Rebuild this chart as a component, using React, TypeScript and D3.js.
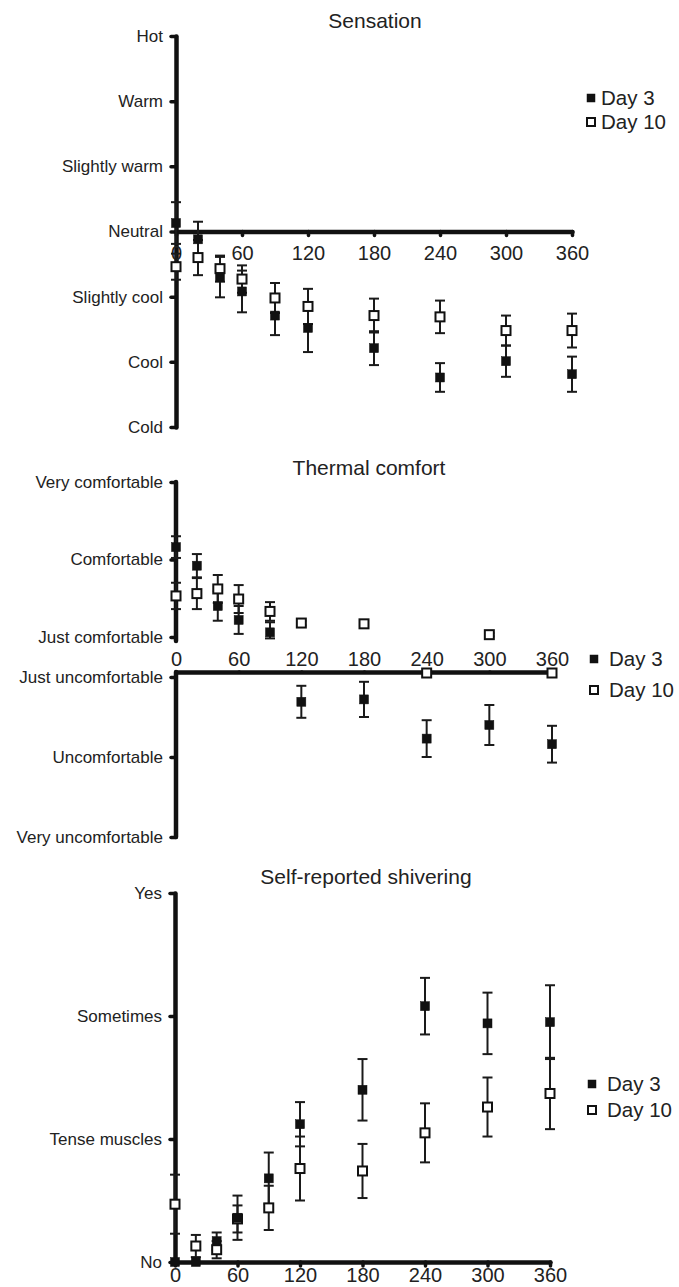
import React, { useEffect, useRef } from "react";
import * as d3 from "d3";

// minutes after start
const times = [0, 20, 40, 60, 90, 120, 180, 240, 300, 360];
const xTicks = [0, 60, 120, 180, 240, 300, 360];
const legendLabels = ["Day 3", "Day 10"];

// Sensation: Neutral = 0, Hot = 3, Cold = -3
const sensationTicks = [-3, -2, -1, 0, 1, 2, 3];
const sensationLabels = ["Cold", "Cool", "Slightly cool", "Neutral", "Slightly warm", "Warm", "Hot"];
const sensDay3 = [0.13, -0.12, -0.7, -0.92, -1.29, -1.48, -1.79, -2.24, -1.99, -2.19];
const sensDay3Err = [0.32, 0.27, 0.31, 0.32, 0.3, 0.37, 0.26, 0.22, 0.24, 0.27];
const sensDay10 = [-0.54, -0.4, -0.57, -0.73, -1.02, -1.15, -1.29, -1.31, -1.52, -1.52];
const sensDay10Err = [0.2, 0.27, 0.2, 0.21, 0.23, 0.27, 0.26, 0.25, 0.23, 0.26];

// Thermal comfort: comfortable side 1..3, uncomfortable side -1..-3
const comfortTicks = [-3, -2, -1, 1, 2, 3];
const comfortLabels = [
  "Very uncomfortable",
  "Uncomfortable",
  "Just uncomfortable",
  "Just comfortable",
  "Comfortable",
  "Very comfortable",
];
const comfDay3 = [2.16, 1.92, 1.4, 1.22, 1.06, -1.31, -1.28, -1.77, -1.6, -1.84];
const comfDay3Err = [0.14, 0.15, 0.19, 0.18, 0.13, 0.2, 0.22, 0.23, 0.25, 0.23];
const comfDay10 = [1.53, 1.56, 1.62, 1.49, 1.33, 1.18, 1.17, -0.8, 1.03, -0.8];
const comfDay10Err = [0.17, 0.2, 0.18, 0.18, 0.12, 0.03, 0.03, 0, 0.02, 0];

// Shivering: No = 0 ... Yes = 3
const shiverTicks = [0, 1, 2, 3];
const shiverLabels = ["No", "Tense muscles", "Sometimes", "Yes"];
const shivDay3 = [0, 0, 0.17, 0.36, 0.68, 1.12, 1.4, 2.08, 1.94, 1.95];
const shivDay3Err = [0, 0, 0.07, 0.18, 0.21, 0.18, 0.25, 0.23, 0.25, 0.3];
const shivDay10 = [0.47, 0.13, 0.1, 0.35, 0.44, 0.76, 0.74, 1.05, 1.26, 1.37];
const shivDay10Err = [0.24, 0.09, 0.07, 0.11, 0.18, 0.26, 0.22, 0.24, 0.24, 0.29];

const FONT = "'Liberation Sans', Arial, Helvetica, sans-serif";

const panels = [
  {
    title: "Sensation",
    titleX: 375,
    titleY: 28,
    xRange: [176, 572],
    yDomain: [-3, 3],
    yRange: [427, 36],
    yTicks: sensationTicks,
    yLabels: sensationLabels,
    xAxisAt: 0,
    xLabelsAbove: false,
    xTickPad: 10,
    ySegments: null,
    day3: sensDay3,
    day3Err: sensDay3Err,
    day10: sensDay10,
    day10Err: sensDay10Err,
    legend: { x: 591, tx: 601, y: [98, 122] },
  },
  {
    title: "Thermal comfort",
    titleX: 369,
    titleY: 475,
    xRange: [176, 552],
    yDomain: [3, 1, -1, -3],
    yRange: [482, 637, 677, 837],
    yTicks: comfortTicks,
    yLabels: comfortLabels,
    xAxisAt: -0.75,
    xLabelsAbove: true,
    xTickPad: 6,
    ySegments: [
      [3, 0.8],
      [-0.75, -3],
    ],
    day3: comfDay3,
    day3Err: comfDay3Err,
    day10: comfDay10,
    day10Err: comfDay10Err,
    legend: { x: 594, tx: 609, y: [659, 690] },
  },
  {
    title: "Self-reported shivering",
    titleX: 366,
    titleY: 884,
    xRange: [175, 550],
    yDomain: [0, 3],
    yRange: [1262, 893],
    yTicks: shiverTicks,
    yLabels: shiverLabels,
    xAxisAt: 0,
    xLabelsAbove: false,
    xTickPad: 2,
    ySegments: null,
    day3: shivDay3,
    day3Err: shivDay3Err,
    day10: shivDay10,
    day10Err: shivDay10Err,
    legend: { x: 592, tx: 607, y: [1084, 1110] },
  },
];

function drawPanel(g, p) {
  const x = d3.scaleLinear().domain([0, 360]).range(p.xRange);
  const y = d3.scaleLinear().domain(p.yDomain).range(p.yRange);

  g.append("text")
    .attr("x", p.titleX)
    .attr("y", p.titleY)
    .attr("text-anchor", "middle")
    .attr("font-size", 21)
    .attr("fill", "#222")
    .text(p.title);

  // y axis
  const yAxis = d3
    .axisLeft(y)
    .tickValues(p.yTicks)
    .tickFormat((d, i) => p.yLabels[i])
    .tickSize(5)
    .tickPadding(8)
    .tickSizeOuter(0);
  const yg = g
    .append("g")
    .attr("transform", `translate(${p.xRange[0]},0)`)
    .call(yAxis);
  yg.selectAll("text").attr("font-size", 17).attr("font-family", FONT).attr("fill", "#222");
  yg.selectAll(".tick line").attr("stroke", "#111").attr("stroke-width", 3.5).attr("stroke-linecap", "round");
  if (p.ySegments) {
    yg.select(".domain").remove();
    p.ySegments.forEach(([a, b]) => {
      yg.append("line")
        .attr("x1", 0)
        .attr("x2", 0)
        .attr("y1", y(a))
        .attr("y2", y(b))
        .attr("stroke", "#111")
        .attr("stroke-width", 4.5)
        .attr("stroke-linecap", "round");
    });
  } else {
    yg.select(".domain").attr("stroke", "#111").attr("stroke-width", 4.5).attr("stroke-linecap", "round");
  }

  // x axis
  const xAxis = (p.xLabelsAbove ? d3.axisTop(x) : d3.axisBottom(x))
    .tickValues(xTicks)
    .tickSize(p.xLabelsAbove ? 0 : 4)
    .tickPadding(p.xTickPad)
    .tickSizeOuter(0);
  const xg = g
    .append("g")
    .attr("transform", `translate(0,${y(p.xAxisAt)})`)
    .call(xAxis);
  xg.selectAll("text").attr("font-size", 20).attr("font-family", FONT).attr("fill", "#222");
  xg.selectAll(".tick line").attr("stroke", "#111").attr("stroke-width", 3.5).attr("stroke-linecap", "round");
  xg.select(".domain").attr("stroke", "#111").attr("stroke-width", 4.5).attr("stroke-linecap", "round");

  // error bars
  const series = [
    { vals: p.day3, errs: p.day3Err, open: false },
    { vals: p.day10, errs: p.day10Err, open: true },
  ];
  series.forEach((s) => {
    const bars = g
      .append("g")
      .selectAll("g")
      .data(times.map((t, i) => ({ t, v: s.vals[i], e: s.errs[i] })).filter((d) => d.e > 0))
      .join("g")
      .attr("stroke", "#1a1a1a")
      .attr("stroke-width", 2);
    bars
      .append("line")
      .attr("x1", (d) => x(d.t))
      .attr("x2", (d) => x(d.t))
      .attr("y1", (d) => y(d.v - d.e))
      .attr("y2", (d) => y(d.v + d.e));
    [-1, 1].forEach((sgn) => {
      bars
        .append("line")
        .attr("x1", (d) => x(d.t) - 5)
        .attr("x2", (d) => x(d.t) + 5)
        .attr("y1", (d) => y(d.v + sgn * d.e))
        .attr("y2", (d) => y(d.v + sgn * d.e));
    });
  });

  // markers: open (Day 10) then filled (Day 3)
  [series[1], series[0]].forEach((s) => {
    g.append("g")
      .selectAll("rect")
      .data(times.map((t, i) => ({ t, v: s.vals[i] })))
      .join("rect")
      .attr("x", (d) => x(d.t) - 4.5)
      .attr("y", (d) => y(d.v) - 4.5)
      .attr("width", 9)
      .attr("height", 9)
      .attr("fill", s.open ? "#fff" : "#111")
      .attr("stroke", "#111")
      .attr("stroke-width", s.open ? 2 : 0.5);
  });

  // legend
  const lg = g.append("g");
  legendLabels.forEach((label, i) => {
    const ly = p.legend.y[i];
    lg.append("rect")
      .attr("x", p.legend.x - 4)
      .attr("y", ly - 4)
      .attr("width", 8)
      .attr("height", 8)
      .attr("fill", i === 0 ? "#111" : "#fff")
      .attr("stroke", "#111")
      .attr("stroke-width", i === 0 ? 0.5 : 2);
    lg.append("text")
      .attr("x", p.legend.tx)
      .attr("y", ly)
      .attr("dy", "0.35em")
      .attr("font-size", 20.5)
      .attr("fill", "#222")
      .text(label);
  });
}

export default function App() {
  const svgRef = useRef(null);

  useEffect(() => {
    const svg = d3.select(svgRef.current);
    svg.selectAll("*").remove();
    panels.forEach((p) => drawPanel(svg.append("g"), p));
  }, []);

  return (
    <svg
      ref={svgRef}
      width={679}
      height={1287}
      style={{ position: "absolute", left: 0, top: 0, background: "#fff", fontFamily: FONT }}
    />
  );
}
